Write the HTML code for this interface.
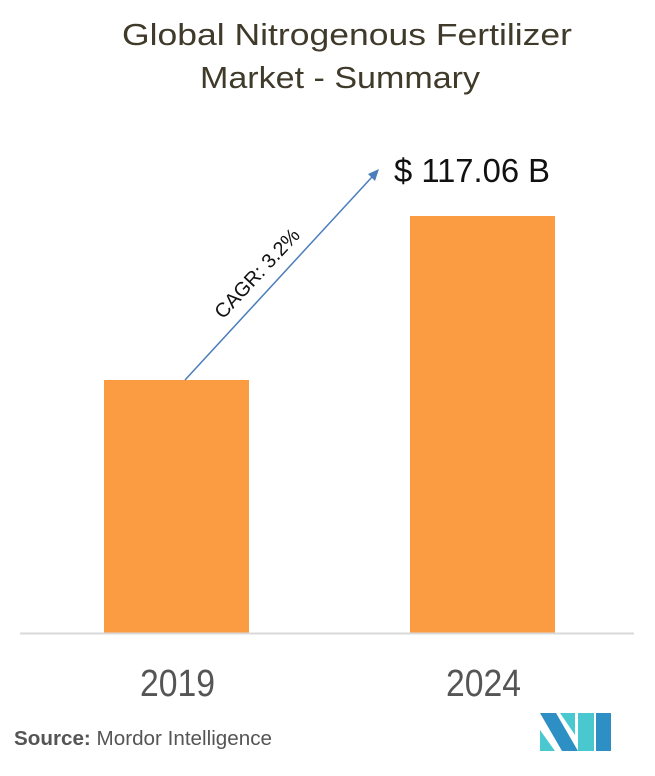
<!DOCTYPE html>
<html><head><style>
body{margin:0;width:655px;height:771px;background:#fff;overflow:hidden;font-family:"Liberation Sans",sans-serif}
</style></head><body>
<svg width="655" height="771" xmlns="http://www.w3.org/2000/svg">
<text x="122" y="45" textLength="450" lengthAdjust="spacingAndGlyphs" font-size="31" fill="#3f3a2a" font-family="Liberation Sans">Global Nitrogenous Fertilizer</text>
<text x="200" y="88" textLength="280" lengthAdjust="spacingAndGlyphs" font-size="31" fill="#3f3a2a" font-family="Liberation Sans">Market - Summary</text>
<rect x="104" y="380" width="145" height="253" fill="#fb9c43"/>
<rect x="410" y="216" width="145" height="417" fill="#fb9c43"/>
<line x1="20" y1="633.5" x2="634" y2="633.5" stroke="#d9d9d9" stroke-width="2"/>
<line x1="185" y1="380" x2="372" y2="177" stroke="#4a7ebb" stroke-width="1.5"/>
<polygon points="379,169 368,174 375,181" fill="#4a7ebb"/>
<text transform="translate(262,278) rotate(-47)" text-anchor="middle" font-size="20" fill="#111">CAGR: 3.2%</text>
<text x="394" y="182" textLength="156" lengthAdjust="spacingAndGlyphs" font-size="33" fill="#111">$ 117.06 B</text>
<text x="140" y="696" textLength="75" lengthAdjust="spacingAndGlyphs" font-size="38" fill="#555">2019</text>
<text x="446" y="696" textLength="75" lengthAdjust="spacingAndGlyphs" font-size="38" fill="#555">2024</text>
<text x="14" y="745" textLength="258" lengthAdjust="spacingAndGlyphs" font-size="20" fill="#555"><tspan font-weight="bold">Source:</tspan> Mordor Intelligence</text>
<polygon points="540,713 556,713 578,751 562,751" fill="#2e8fc4"/>
<polygon points="540,730 555,751 540,751" fill="#4ac8d0"/>
<polygon points="560,713 575,713 575,735" fill="#4ac8d0"/>
<polygon points="578,713 594,713 594,751 578,751" fill="#4ac8d0"/>
<polygon points="596,713 611,713 611,751 596,751" fill="#2e8fc4"/>
</svg>
</body></html>
